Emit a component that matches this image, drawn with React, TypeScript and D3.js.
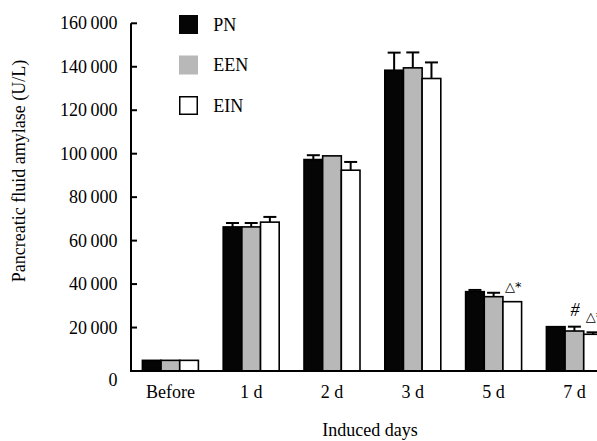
import React from "react";
import * as d3 from "d3";

const categories = ["Before", "1 d", "2 d", "3 d", "5 d", "7 d"];
const seriesNames = ["PN", "EEN", "EIN"];
const pnValues = [4900, 66300, 97300, 138400, 36500, 20400];
const eenValues = [4900, 66300, 99000, 139500, 34200, 18400];
const einValues = [4900, 68500, 92400, 134600, 31900, 16900];
const pnErrors = [0, 1800, 2000, 8100, 800, 0];
const eenErrors = [0, 1800, 0, 7100, 1800, 2000];
const einErrors = [0, 2400, 3800, 7400, 0, 900];
const yTicks = [0, 20000, 40000, 60000, 80000, 100000, 120000, 140000, 160000];
const annotations = [
  { cat: "5 d", series: "EIN", text: "△*" },
  { cat: "7 d", series: "EEN", text: "#" },
  { cat: "7 d", series: "EIN", text: "△*" },
];

const W = 597;
const H = 441;
const FONT = "'Liberation Serif', 'Times New Roman', serif";
const colors = ["#050505", "#b8b8b8", "#ffffff"];

export default function App() {
  const axisX = 131;
  const axisY = 371;
  const y = d3.scaleLinear().domain([0, 160000]).range([axisY, 23.3]);
  const x0 = d3
    .scaleBand<string>()
    .domain(categories)
    .range([130, 130 + 6 * 80.8])
    .paddingInner(0.307)
    .paddingOuter(0.1535);
  const x1 = d3.scaleBand<string>().domain(seriesNames).range([0, x0.bandwidth()]).padding(0);
  const values = [pnValues, eenValues, einValues];
  const errors = [pnErrors, eenErrors, einErrors];
  const fmt = (v: number) => d3.format(",")(v).replace(/,/g, "\u2009");

  return (
    <svg
      width={W}
      height={H}
      style={{ position: "absolute", left: 0, top: 0, background: "#fff" }}
      fontFamily={FONT}
    >
      {/* bars */}
      {categories.map((c, ci) =>
        seriesNames.map((s, si) => {
          const v = values[si][ci];
          const e = errors[si][ci];
          const bx = (x0(c) as number) + (x1(s) as number);
          const bw = x1.bandwidth();
          const cx = bx + bw / 2;
          return (
            <g key={c + s}>
              {e > 0 && (
                <g stroke="#000" strokeWidth={2}>
                  <line x1={cx} x2={cx} y1={y(v)} y2={y(v + e)} />
                  <line x1={cx - 6.5} x2={cx + 6.5} y1={y(v + e)} y2={y(v + e)} />
                </g>
              )}
              <rect
                x={bx}
                y={y(v)}
                width={bw}
                height={axisY - y(v)}
                fill={colors[si]}
                stroke="#000"
                strokeWidth={1.6}
              />
            </g>
          );
        })
      )}
      {/* annotations */}
      {annotations.map((a, i) => {
        const ci = categories.indexOf(a.cat);
        const si = seriesNames.indexOf(a.series);
        const v = values[si][ci] + errors[si][ci];
        const bx = (x0(a.cat) as number) + (x1(a.series) as number);
        const isHash = a.text === "#";
        return isHash ? (
          <text key={i} x={bx + 10} y={y(v) - 11} fontSize={18} fontStyle="italic" textAnchor="middle">
            {a.text}
          </text>
        ) : (
          <text key={i} x={bx + 2} y={y(v) - 11} fontSize={13} fontFamily="'DejaVu Sans', sans-serif">
            {a.text}
          </text>
        );
      })}
      {/* axes */}
      <line x1={axisX} x2={axisX} y1={y(160000)} y2={axisY + 1} stroke="#000" strokeWidth={2} />
      <line x1={axisX - 1} x2={640} y1={axisY} y2={axisY} stroke="#000" strokeWidth={2} />
      {yTicks.map((t) => (
        <g key={t}>
          {t > 0 && <line x1={axisX} x2={axisX + 6} y1={y(t)} y2={y(t)} stroke="#000" strokeWidth={2} />}
          <text x={117.5} y={y(t) + (t === 0 ? 14.7 : 6)} fontSize={18} textAnchor="end">
            {fmt(t)}
          </text>
        </g>
      ))}
      {categories.map((c) => (
        <text
          key={c}
          x={(x0(c) as number) + x0.bandwidth() / 2}
          y={397.7}
          fontSize={18}
          textAnchor="middle"
        >
          {c}
        </text>
      ))}
      <text x={370} y={436} fontSize={18} textAnchor="middle">
        Induced days
      </text>
      <text transform="translate(25,171) rotate(-90)" fontSize={18} textAnchor="middle">
        Pancreatic fluid amylase (U/L)
      </text>
      {/* legend */}
      {seriesNames.map((s, si) => (
        <g key={s} transform={`translate(179,${15 + si * 40.5})`}>
          <rect
            x={si === 2 ? 0.75 : 0}
            y={si === 2 ? 0.75 : 0}
            width={si === 2 ? 17.5 : 19}
            height={si === 2 ? 17.5 : 19}
            fill={colors[si]}
            stroke={si === 2 ? "#000" : "none"}
            strokeWidth={1.5}
          />
          <text x={34.3} y={15.5} fontSize={18}>
            {s}
          </text>
        </g>
      ))}
    </svg>
  );
}
